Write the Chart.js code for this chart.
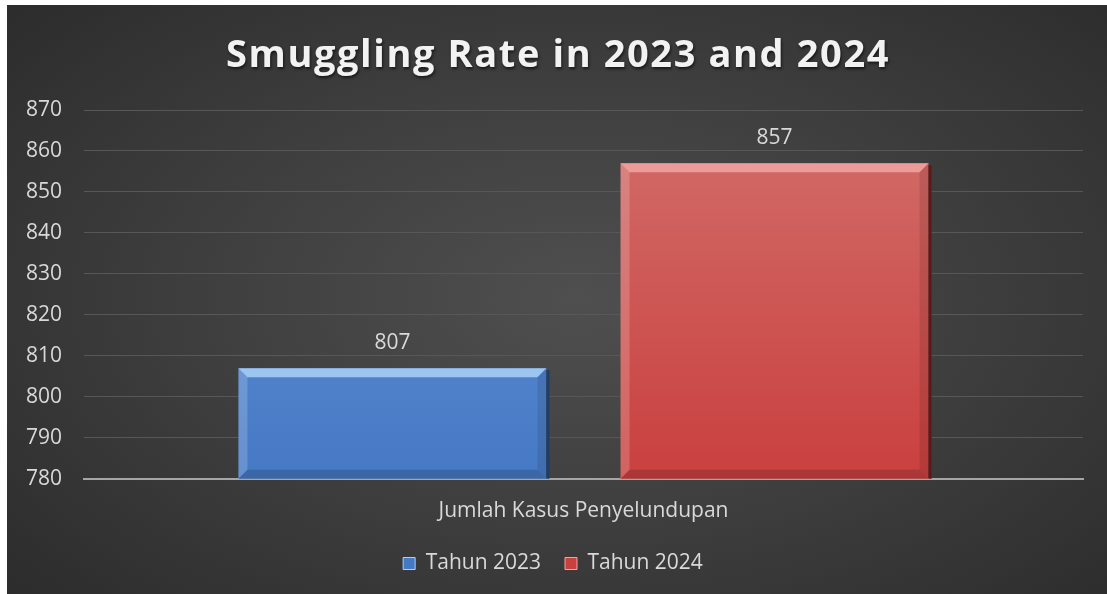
<!DOCTYPE html>
<html>
<head>
<meta charset="utf-8">
<script src="https://cdn.jsdelivr.net/npm/chart.js@4.4.1/dist/chart.umd.min.js"></script>
<style>
    html, body { margin: 0; padding: 0; background: #ffffff; }
    #wrap {
        position: absolute; left: 7px; top: 5px; width: 1100px; height: 589px;
        background: radial-gradient(ellipse 70% 75% at 52% 50%, #4f4f4f 0%, #404040 45%, #2c2c2c 100%);
    }
    canvas { display: block; }
</style>
</head>
<body>
<div id="wrap"><canvas id="chart" width="1100" height="589"></canvas></div>
<script>
const chartTitle = 'Smuggling Rate in 2023 and 2024';
const categories = ['Jumlah Kasus Penyelundupan'];
const seriesNames = ['Tahun 2023', 'Tahun 2024'];
const values2023 = [807];
const values2024 = [857];
const yTicks = [780, 790, 800, 810, 820, 830, 840, 850, 860, 870];

const palette = [
    { top: '#6697da', bottom: '#4679c4', light: '#a9d2f6', dark: '#1f3d66' },
    { top: '#d26e6a', bottom: '#c9403f', light: '#f2a4a2', dark: '#5e1818' }
];

function barGradient(ctx, i) {
    const chart = ctx.chart;
    const area = chart.chartArea;
    if (!area) return palette[i].top;
    const g = chart.ctx.createLinearGradient(0, area.top, 0, area.bottom);
    g.addColorStop(0, palette[i].top);
    g.addColorStop(1, palette[i].bottom);
    return g;
}

// title drawn by hand so it can have letter spacing and a soft shadow
const titlePlugin = {
    id: 'spacedTitle',
    afterDraw(chart) {
        const c = chart.ctx;
        c.save();
        c.font = 'bold 38px "Open Sans", sans-serif';
        c.letterSpacing = '1.6px';
        c.fillStyle = '#f2f2f2';
        c.textAlign = 'center';
        c.textBaseline = 'middle';
        c.shadowColor = 'rgba(0,0,0,0.6)';
        c.shadowOffsetX = 1;
        c.shadowOffsetY = 2;
        c.shadowBlur = 3;
        c.fillText(chartTitle, chart.width / 2 + 1, 51);
        c.restore();
    }
};

// bevel edges + value labels drawn over the bars
const bevelPlugin = {
    id: 'bevel',
    afterDatasetsDraw(chart) {
        const c = chart.ctx;
        const area = chart.chartArea;
        chart.data.datasets.forEach((ds, i) => {
            chart.getDatasetMeta(i).data.forEach((bar, j) => {
                const l = bar.x - bar.width / 2, r = bar.x + bar.width / 2;
                const t = bar.y, b = Math.min(bar.base, area.bottom), e = 9;
                c.save();
                c.fillStyle = palette[i].dark;
                c.fillRect(r, t + 2, 3, b - t - 2);
                c.fillStyle = palette[i].light;
                c.globalAlpha = 0.85;
                c.beginPath();
                c.moveTo(l, t); c.lineTo(r, t); c.lineTo(r - e, t + e); c.lineTo(l + e, t + e); c.closePath();
                c.fill();
                c.globalAlpha = 0.18;
                c.fillStyle = '#ffffff';
                c.beginPath();
                c.moveTo(l, t); c.lineTo(l + e, t + e); c.lineTo(l + e, b - e); c.lineTo(l, b); c.closePath();
                c.fill();
                c.fillStyle = '#000000';
                c.globalAlpha = 0.1;
                c.beginPath();
                c.moveTo(r, t); c.lineTo(r - e, t + e); c.lineTo(r - e, b - e); c.lineTo(r, b); c.closePath();
                c.fill();
                c.globalAlpha = 0.15;
                c.beginPath();
                c.moveTo(l, b); c.lineTo(l + e, b - e); c.lineTo(r - e, b - e); c.lineTo(r, b); c.closePath();
                c.fill();
                c.restore();
                c.save();
                c.fillStyle = '#d9d9d9';
                c.font = '21px "Open Sans", sans-serif';
                c.textAlign = 'center';
                c.textBaseline = 'middle';
                c.fillText(ds.data[j], bar.x, t - 25);
                c.restore();
            });
        });
    }
};

const ctx = document.getElementById('chart').getContext('2d');
new Chart(ctx, {
    type: 'bar',
    data: {
        labels: categories,
        datasets: [
            {
                label: seriesNames[0],
                data: values2023,
                backgroundColor: (c) => barGradient(c, 0),
                borderWidth: 0
            },
            {
                label: seriesNames[1],
                data: values2024,
                backgroundColor: (c) => barGradient(c, 1),
                borderWidth: 0
            }
        ]
    },
    options: {
        responsive: false,
        animation: false,
        categoryPercentage: 0.765,
        barPercentage: 0.806,
        layout: { padding: { left: 16, right: 24, top: 105, bottom: 10 } },
        plugins: {
            title: { display: false },
            legend: {
                position: 'bottom',
                labels: {
                    color: '#d9d9d9',
                    font: { family: '"Open Sans", sans-serif', size: 21 },
                    boxWidth: 12,
                    boxHeight: 12,
                    padding: 24,
                    generateLabels: (chart) => chart.data.datasets.map((ds, i) => ({
                        text: ds.label,
                        fillStyle: palette[i].bottom,
                        strokeStyle: palette[i].light,
                        lineWidth: 1,
                        fontColor: '#d9d9d9',
                        datasetIndex: i
                    }))
                }
            },
            tooltip: { enabled: false }
        },
        scales: {
            x: {
                grid: { display: false },
                border: { color: '#a6a6a6', width: 2 },
                afterFit: (axis) => { axis.height -= 7; },
                ticks: {
                    color: '#d9d9d9',
                    font: { family: '"Open Sans", sans-serif', size: 21 },
                    padding: 12
                }
            },
            y: {
                min: yTicks[0],
                max: yTicks[yTicks.length - 1],
                afterBuildTicks: (axis) => { axis.ticks = yTicks.map(v => ({ value: v })); },
                afterFit: (axis) => { axis.width = 61; },
                grid: { color: '#575757', lineWidth: 1, drawTicks: false },
                border: { display: false },
                ticks: {
                    color: '#d9d9d9',
                    font: { family: '"Open Sans", sans-serif', size: 21 },
                    padding: 22
                }
            }
        }
    },
    plugins: [bevelPlugin, titlePlugin]
});
</script>
</body>
</html>
